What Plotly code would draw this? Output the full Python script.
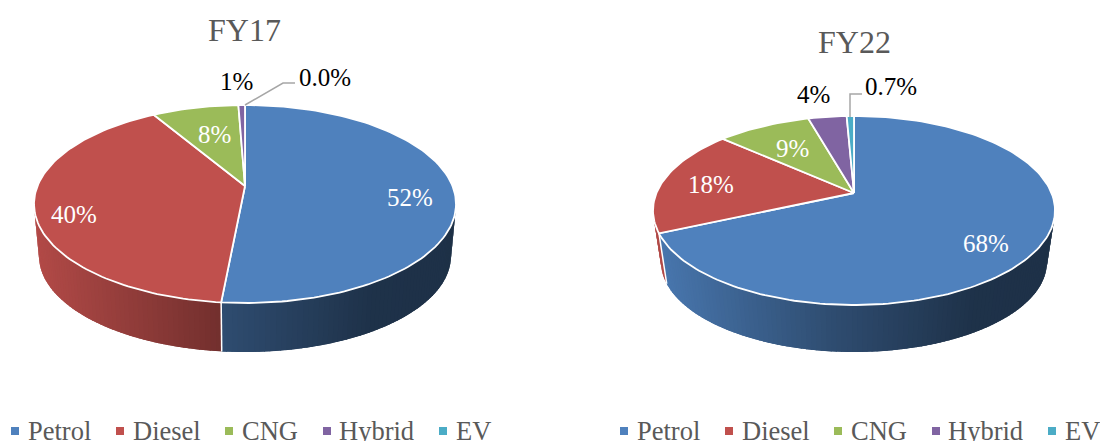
import math
import plotly.graph_objects as go

categories = ["Petrol", "Diesel", "CNG", "Hybrid", "EV"]
fy17_values = [51.5, 40.0, 7.9, 0.6, 0.0]
fy22_values = [68.3, 18.3, 9.0, 3.7, 0.7]
fy17_labels = ["52%", "40%", "8%", "1%", "0.0%"]
fy22_labels = ["68%", "18%", "9%", "4%", "0.7%"]
colors = ["#4F81BD", "#C0504D", "#9BBB59", "#8064A2", "#4BACC6"]

FONT = "Liberation Serif"
GREY = "#595959"

pies = [
    dict(title="FY17", title_xy=(244.5, 30), values=fy17_values, labels=fy17_labels,
         cx=245, cy=204, rx=211, ry=99, apex_y=186, rx2=206, cy2=256, ry2=96,
         label_xy=[(410, 197), (74, 214), (214, 134), (236, 81), (325, 77)],
         label_col=["white", "white", "white", "black", "black"],
         leader=[(245, 105), (283, 83), (295, 83)], legend_dx=0),
    dict(title="FY22", title_xy=(854, 42), values=fy22_values, labels=fy22_labels,
         cx=854, cy=210.5, rx=201, ry=94.5, apex_y=193, rx2=193, cy2=262, ry2=90,
         label_xy=[(986, 243), (711, 184), (792, 148), (813, 94), (891, 86)],
         label_col=["white", "white", "white", "black", "black"],
         leader=[(850, 117), (850, 94), (862, 94)], legend_dx=609),
]
legend_marker_x = [15, 120, 229, 327, 443]
legend_text_x = [25.5, 130.5, 239.5, 336.5, 453.5]


def shade(hex_col, f):
    r, g, b = (int(hex_col[i:i + 2], 16) for i in (1, 3, 5))
    return f"rgb({int(r * f)},{int(g * f)},{int(b * f)})"


def shade_factor(t):
    # left-to-right darkening of the side wall
    stops = [(0, 0.93), (0.44, 0.60), (0.8, 0.39), (1, 0.38)]
    for (a, fa), (b, fb) in zip(stops, stops[1:]):
        if t <= b:
            return fa + (fb - fa) * (t - a) / (b - a)
    return stops[-1][1]


def project(theta_deg, k):
    """True pie angle -> angle on the foreshortened rim ellipse."""
    h = math.radians(theta_deg) / 2
    return math.degrees(2 * math.atan2(k * math.sin(h), math.cos(h)))


fig = go.Figure()
annotations = []


def poly(xs, ys, fill, line_col=None, width=0.0):
    fig.add_trace(go.Scatter(x=xs, y=ys, mode="lines", fill="toself", fillcolor=fill,
                             line=dict(color=line_col or fill, width=width),
                             hoverinfo="skip", showlegend=False))


def text(x, y, s, size, color, anchor="center"):
    annotations.append(dict(x=x, y=y, xref="x", yref="y", text=s, showarrow=False,
                            xanchor=anchor, yanchor="middle",
                            font=dict(family=FONT, size=size, color=color)))


for p in pies:
    cx, cy, rx, ry = p["cx"], p["cy"], p["rx"], p["ry"]
    e = (cy - p["apex_y"]) / ry
    k = math.tan(math.acos(e) / 2)

    def rim(phi):
        a = math.radians(phi)
        return cx + rx * math.sin(a), cy - ry * math.cos(a)

    def low(phi):
        a = math.radians(phi)
        return cx + p["rx2"] * math.sin(a), p["cy2"] - p["ry2"] * math.cos(a)

    total = sum(p["values"])
    spans = []
    acc = 0.0
    for v in p["values"]:
        spans.append((project(acc / total * 360, k), project((acc + v) / total * 360, k)))
        acc += v

    # side wall: strips overlap the next one, so that no seams show
    for (a, b), col in zip(spans, colors):
        lo, hi = max(a, 90), min(b, 270)
        if hi <= lo:
            continue
        n = max(1, int((hi - lo) / 1.5))
        step = (hi - lo) / n
        for i in range(n):
            p0 = lo + step * i
            p1 = min(hi, p0 + 2.2 * step)
            q = 6
            top = [rim(p0 + (p1 - p0) * j / q) for j in range(q + 1)]
            bot = [low(p1 - (p1 - p0) * j / q) for j in range(q + 1)]
            pts = top + bot + top[:1]
            xmid = rim(p0 + step / 2)[0]
            t = (xmid - (cx - rx)) / (2 * rx)
            if 90 <= p0 <= 180:  # painted right to left on this side
                pass
            poly([c[0] for c in pts], [c[1] for c in pts], shade(col, shade_factor(t)))
    for a, b in spans:
        if 90 < b < 270:
            x0, y0 = rim(b)
            x1, y1 = low(b)
            fig.add_trace(go.Scatter(x=[x0, x1], y=[y0, y1], mode="lines",
                                     line=dict(color="white", width=1.5),
                                     hoverinfo="skip", showlegend=False))

    # top face
    for (a, b), col in zip(spans, colors):
        if b - a <= 0:
            continue
        n = max(2, int((b - a) / 1.5))
        pts = [rim(a + (b - a) * i / n) for i in range(n + 1)]
        xs = [cx] + [q[0] for q in pts] + [cx]
        ys = [p["apex_y"]] + [q[1] for q in pts] + [p["apex_y"]]
        poly(xs, ys, col, "white", 1.8)

    # leader line
    fig.add_trace(go.Scatter(x=[q[0] for q in p["leader"]], y=[q[1] for q in p["leader"]],
                             mode="lines", line=dict(color="#A6A6A6", width=1.5),
                             hoverinfo="skip", showlegend=False))

    # texts
    text(*p["title_xy"], p["title"], 32, GREY)
    for (x, y), s, c in zip(p["label_xy"], p["labels"], p["label_col"]):
        text(x, y, s, 25, c)

    # legend
    for name, col, mx, tx in zip(categories, colors, legend_marker_x, legend_text_x):
        fig.add_trace(go.Scatter(x=[mx + p["legend_dx"]], y=[431], mode="markers",
                                 marker=dict(symbol="square", size=8, color=col, line=dict(width=0)),
                                 hoverinfo="skip", showlegend=False))
        text(tx + p["legend_dx"], 431, name, 26.5, GREY, "left")

fig.update_layout(
    width=1100, height=441, margin=dict(l=0, r=0, t=0, b=0),
    paper_bgcolor="white", plot_bgcolor="white",
    xaxis=dict(range=[0, 1100], visible=False, fixedrange=True),
    yaxis=dict(range=[441, 0], visible=False, fixedrange=True),
    annotations=annotations, showlegend=False,
)
fig.write_html("out.html", config={"displayModeBar": False},
               post_script="document.body.style.margin='0';")
